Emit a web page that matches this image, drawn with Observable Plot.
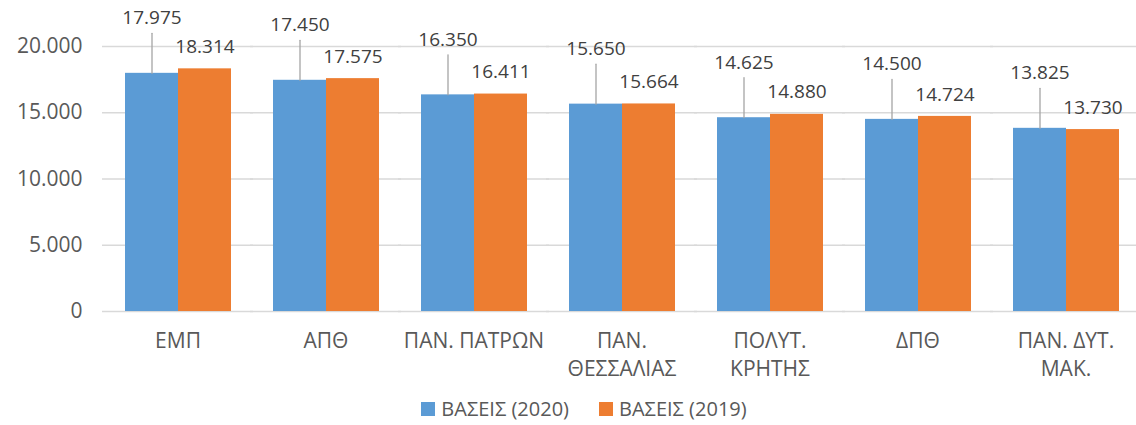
<!DOCTYPE html>
<html><head><meta charset="utf-8">
<script src="https://cdn.jsdelivr.net/npm/d3@7"></script>
<script src="https://cdn.jsdelivr.net/npm/@observablehq/plot@0.6"></script>
<style>
body{margin:0;background:#fff;font-family:"Open Sans",sans-serif;}
#legend{display:flex;justify-content:center;padding-left:62px;margin-top:2px;}
#legend div, #legend span{font-family:"Open Sans",sans-serif !important;font-size:20px !important;color:#595959 !important;}
#legend span{margin-right:30px !important;}
#legend svg{margin-right:6px !important;}
</style></head><body><div id="chart"></div><div id="legend"></div>
<script>
const categories = ["ΕΜΠ","ΑΠΘ","ΠΑΝ. ΠΑΤΡΩΝ","ΠΑΝ. ΘΕΣΣΑΛΙΑΣ","ΠΟΛΥΤ. ΚΡΗΤΗΣ","ΔΠΘ","ΠΑΝ. ΔΥΤ. ΜΑΚ."];
const categoryLabels = ["ΕΜΠ","ΑΠΘ","ΠΑΝ. ΠΑΤΡΩΝ","ΠΑΝ.\nΘΕΣΣΑΛΙΑΣ","ΠΟΛΥΤ.\nΚΡΗΤΗΣ","ΔΠΘ","ΠΑΝ. ΔΥΤ.\nΜΑΚ."];
const series = ["ΒΑΣΕΙΣ (2020)","ΒΑΣΕΙΣ (2019)"];
const values2020 = [17975,17450,16350,15650,14625,14500,13825];
const values2019 = [18314,17575,16411,15664,14880,14724,13730];
const yTicks = [0,5000,10000,15000,20000];
const colors = ["#5b9bd5","#ed7d31"];

const fmt = d3.formatLocale({decimal:",",thousands:".",grouping:[3],currency:["","€"]}).format(",d");
const rows = categories.flatMap((c,i)=>[
  {cat:c, series:series[0], v:values2020[i]},
  {cat:c, series:series[1], v:values2019[i]}
]);
const r2020 = rows.filter(d=>d.series===series[0]);
const r2019 = rows.filter(d=>d.series===series[1]);
const leader = {draw(ctx, l){ctx.moveTo(0,0); ctx.lineTo(0,-l);}};

const chart = Plot.plot({
  width:1136, height:390, marginLeft:101, marginRight:-5, marginTop:46, marginBottom:79,
  style:{fontFamily:"Open Sans", fontSize:"21px", color:"#595959", background:"#fff", overflow:"visible"},
  fx:{domain:categories, paddingInner:0.28, paddingOuter:0.141, label:null},
  x:{domain:series, padding:0, axis:null},
  y:{domain:[0,20000], axis:null},
  color:{domain:series, range:colors},
  marks:[
    Plot.ruleY(yTicks,{stroke:"#d9d9d9", strokeWidth:1.3, insetLeft:-22, insetRight:-22}),
    Plot.barY(rows,{fx:"cat", x:"series", y:"v", fill:"series"}),
    Plot.vector(r2020,{fx:"cat", x:"series", y:"v", length:40, rotate:0, anchor:"start", shape:leader, stroke:"#a5a5a5", strokeWidth:1.3}),
    Plot.text(r2020,{fx:"cat", x:"series", y:"v", text:d=>fmt(d.v), dy:-55, fill:"#404040", fontSize:19}),
    Plot.text(r2019,{fx:"cat", x:"series", y:"v", text:d=>fmt(d.v), dy:-22, fill:"#404040", fontSize:19}),
    Plot.axisY({ticks:yTicks, tickFormat:fmt, tickSize:0, tickPadding:42, label:null, fontSize:21}),
    Plot.axisFx({anchor:"bottom", tickSize:0, tickPadding:17, lineHeight:1.33, label:null, fontSize:21,
      tickFormat:d=>categoryLabels[categories.indexOf(d)]})
  ]
});
document.getElementById("chart").appendChild(chart);
const legend = Plot.legend({color:{domain:series, range:colors}, swatchSize:14});
document.getElementById("legend").appendChild(legend);
</script></body></html>
